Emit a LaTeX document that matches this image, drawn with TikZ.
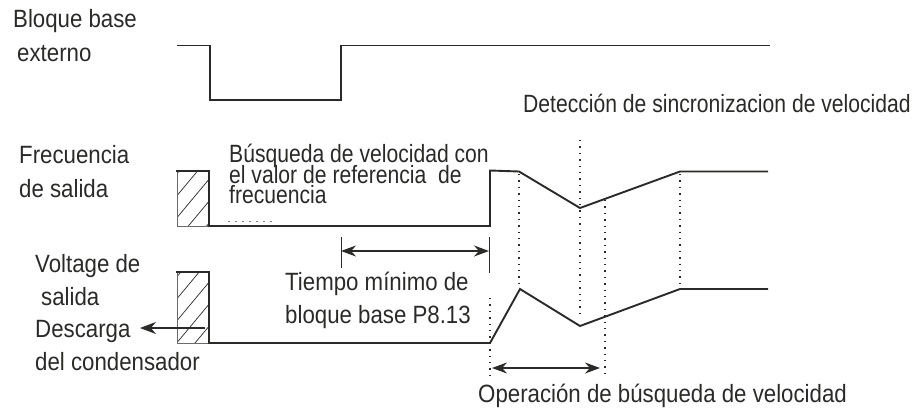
\documentclass[tikz,border=0pt]{standalone}
\usepackage{fontspec}
\setmainfont{Liberation Sans}[FakeStretch=0.89]
\newfontfamily\condfont{Liberation Sans}[FakeStretch=0.845]
\usetikzlibrary{arrows.meta}
\definecolor{ink}{HTML}{2A2A28}
\tikzset{
  sig/.style={draw=ink, line width=1.9pt, line join=miter},
  thinedge/.style={draw=ink!70, line width=0.6pt},
  hatch/.style={draw=ink, line width=0.7pt},
  dotv/.style={draw=ink, line width=1.4pt, dash pattern=on 1.4pt off 5pt},
  tick/.style={draw=ink, line width=0.9pt},
  dim/.style={draw=ink, line width=1.2pt, {Stealth[length=15pt,width=11pt]}-{Stealth[length=15pt,width=11pt]}},
  lbl/.style={anchor=base west, inner sep=0pt, text=ink, font=\fontsize{25}{25}\selectfont},
  clbl/.style={anchor=base west, inner sep=0pt, text=ink, font=\fontsize{25}{25}\selectfont\condfont},
}
\begin{document}
\begin{tikzpicture}[x=1pt,y=-1pt]
\useasboundingbox (0,0) rectangle (915,412);
% ---------- labels ----------
\node[lbl] (l1) at (13,28) {Bloque base};
\node[lbl] (l2) at (17,62) {externo};
\node[lbl] (l3) at (19,163) {Frecuencia};
\node[lbl] (l4) at (19,197) {de salida};
\node[lbl] (l5) at (35,272) {Voltage de};
\node[lbl] (l6) at (41,305) {salida};
\node[lbl] (l7) at (35,337) {Descarga};
\node[lbl] (l8) at (35,370) {del condensador};
\node[clbl] (b1) at (229,162) {Búsqueda de velocidad con};
\node[clbl] (b2) at (229,183) {el valor de referencia\ \ de};
\node[clbl] (b3) at (229,203) {frecuencia};
\node[lbl] (t1) at (285,290) {Tiempo mínimo de};
\node[lbl] (t2) at (285,323) {bloque base P8.13};
\node[lbl] (op) at (478,402) {Operación de búsqueda de velocidad};
\node[clbl] (dt) at (523,112) {Detección de sincronizacion de velocidad};
% ---------- external base block ----------
\draw[sig] (177,45.5) -- (210,45.5) -- (210,100) -- (341,100) -- (341,45.5) -- (770,45.5);
% ---------- output frequency ----------
\begin{scope}
  \clip (177,171) rectangle (209,226);
  \foreach \k in {0,...,5} \draw[hatch] (170,182+\k*22) -- ++(50,-60);
\end{scope}
\draw[thinedge] (177,171) -- (177,226) -- (209,226);
\draw[sig] (176,171) -- (209,171) -- (209,226) -- (490,226) -- (490,170.5) -- (519,171.5)
  -- (580,208) -- (680,171.5) -- (768,171.5);
\draw[draw=ink!60, line width=0.8pt, dash pattern=on 2pt off 5pt] (228,221) -- (276,221);
% ---------- output voltage ----------
\begin{scope}
  \clip (177,272) rectangle (209,343);
  \foreach \k in {0,...,6} \draw[hatch] (170,285+\k*22) -- ++(50,-60);
\end{scope}
\draw[thinedge] (177,272) -- (177,343) -- (209,343);
\draw[sig] (176,272) -- (209,272) -- (209,343) -- (490,343) -- (520,289)
  -- (580,326) -- (680,289) -- (768,289);
% ---------- discharge arrow ----------
\coordinate (dA) at (205,328);
\coordinate (dB) at (140,328);
\draw[draw=ink, line width=1.5pt, -{Stealth[length=16pt,width=12pt]}] (dA) -- (dB);
% ---------- dotted verticals ----------
\coordinate (v1a) at (490,298); \coordinate (v1b) at (490,377);
\coordinate (v2a) at (519,174); \coordinate (v2b) at (519,284);
\coordinate (v3a) at (580,140); \coordinate (v3b) at (580,318);
\coordinate (v4a) at (605,200); \coordinate (v4b) at (605,377);
\coordinate (v5a) at (680,174); \coordinate (v5b) at (680,283);
\draw[dotv] (v1a) -- (v1b);
\draw[dotv] (v2a) -- (v2b);
\draw[dotv] (v3a) -- (v3b);
\draw[dotv] (v4a) -- (v4b);
\draw[dotv] (v5a) -- (v5b);
% ---------- minimum base block time ----------
\coordinate (ta1) at (341,237); \coordinate (ta2) at (341,268);
\coordinate (tb1) at (489,237); \coordinate (tb2) at (489,273);
\draw[tick] (ta1) -- (ta2);
\draw[tick] (tb1) -- (tb2);
\coordinate (ma) at (341,251); \coordinate (mb) at (489,251);
\draw[dim] (ma) -- (mb);
% ---------- speed search operation ----------
\coordinate (oa) at (492,368); \coordinate (ob) at (600,368);
\draw[dim] (oa) -- (ob);
\end{tikzpicture}
\end{document}
